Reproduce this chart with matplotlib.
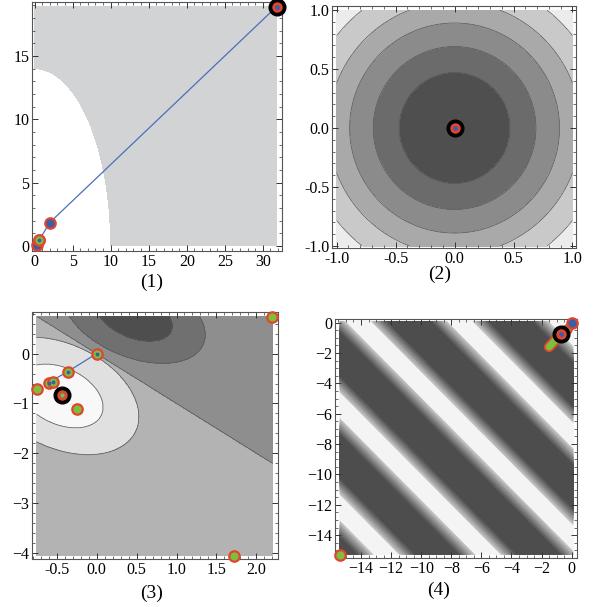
import numpy as np
import matplotlib
matplotlib.use("Agg")
import matplotlib.pyplot as plt
from matplotlib.ticker import MultipleLocator, FormatStrFormatter
import matplotlib.patheffects as pe

plt.rcParams['font.family'] = ['Liberation Serif', 'DejaVu Serif']
plt.rcParams['font.size'] = 11.5

# ---- data ----
# panel (1): search path and feasible-region boundary (ellipse semi-axes)
p1_x = [0.3, 0.6, 2.0, 31.8]
p1_y = [0.05, 0.45, 1.85, 18.9]
p1_box = [0.0, 31.8, 0.0, 18.9]
p1_ell = [10.0, 14.0]

# panel (2): circular contours, radii of the bands
p2_radii = [0.47, 0.69, 0.89, 1.07, 1.27]
p2_grays = ['#4f4f4f', '#6b6b6b', '#8b8b8b', '#a9a9a9', '#c9c9c9', '#ececec']
p2_opt = [0.0, 0.0]

# panel (3): path, extra sample points, optimum
p3_path_x = [0.0, -0.36, -0.6, -0.54, -0.43]
p3_path_y = [0.0, -0.36, -0.58, -0.57, -0.83]
p3_pts_x = [-0.75, -0.24, 2.2, 1.72, -0.6, -0.54, -0.36, 0.0]
p3_pts_y = [-0.72, -1.11, 0.74, -4.06, -0.58, -0.57, -0.36, 0.0]
p3_opt = [-0.43, -0.83]
p3_box = [-0.75, 2.2, -4.06, 0.74]
p3_grays = ['#f8f8f8', '#e0e0e0', '#b3b3b3', '#8e8e8e', '#707070', '#4e4e4e']

# panel (4): stripes along x+y, path near the origin
p4_period = 6.75
p4_white0 = -0.6
p4_box = [-15.4, 0.1, -15.3, 0.1]
p4_path_x = [0.0, -0.3, -0.7]
p4_path_y = [0.0, -0.4, -0.75]
p4_seg_x = [-1.5, -0.95]
p4_seg_y = [-1.6, -1.0]
p4_opt = [-0.68, -0.72]
p4_far = [-15.4, -15.3]

RED = '#e2452f'
GREEN = '#7cbf3c'
BLUE = '#3a5ea8'
LINE = '#4a6fb8'

fig = plt.figure(figsize=(6.0, 6.07), dpi=100)
ax1 = fig.add_axes([0.0538, 0.5865, 0.416, 0.410])
ax2 = fig.add_axes([0.5533, 0.5914, 0.4067, 0.3987])
ax3 = fig.add_axes([0.0538, 0.0786, 0.4095, 0.4069])
ax4 = fig.add_axes([0.5583, 0.0802, 0.4028, 0.3942])


def frame(ax, xmaj, xmin, ymaj, ymin):
    ax.xaxis.set_major_locator(MultipleLocator(xmaj))
    ax.xaxis.set_minor_locator(MultipleLocator(xmin))
    ax.yaxis.set_major_locator(MultipleLocator(ymaj))
    ax.yaxis.set_minor_locator(MultipleLocator(ymin))
    ax.tick_params(which='both', direction='in', top=True, right=True,
                   colors='#333333', labelcolor='black', pad=2)
    ax.tick_params(which='major', length=4, width=0.7)
    ax.tick_params(which='minor', length=2, width=0.5)
    for sp in ax.spines.values():
        sp.set_color('#555555')
        sp.set_linewidth(0.8)


def dot(ax, x, y, face, size=7.5, center=None):
    ax.plot(x, y, 'o', ms=size, mfc=face, mec=RED, mew=1.6, zorder=5, clip_on=False)
    if center is not None:
        ax.plot(x, y, 'o', ms=2.8, mfc=center, mec='none', zorder=6, clip_on=False)


def optimum(ax, x, y):
    ax.plot(x, y, 'o', ms=12, mfc='black', mec='black', zorder=7, clip_on=False)
    ax.plot(x, y, 'o', ms=7.5, mfc=RED, mec='none', zorder=8, clip_on=False)
    ax.plot(x, y, 'o', ms=3.5, mfc=BLUE, mec='none', zorder=9, clip_on=False)


# ---- panel (1) ----
gx = np.linspace(p1_box[0], p1_box[1], 500)
gy = np.linspace(p1_box[2], p1_box[3], 500)
X, Y = np.meshgrid(gx, gy)
F = (X / p1_ell[0]) ** 2 + (Y / p1_ell[1]) ** 2
ax1.contourf(X, Y, F, levels=[0, 1, F.max() + 1], colors=['white', '#d2d3d5'])
ax1.plot(p1_x, p1_y, color=LINE, lw=0.9, zorder=4)
for x, y in zip(p1_x[:-1], p1_y[:-1]):
    dot(ax1, x, y, BLUE)
dot(ax1, p1_x[1], p1_y[1], GREEN, center=BLUE)
optimum(ax1, p1_x[-1], p1_y[-1])
ax1.set_xlim(-0.3, 32.5)
ax1.set_ylim(-0.4, 19.26)
frame(ax1, 5, 1, 5, 1)

# ---- panel (2) ----
gx = np.linspace(-1, 1, 500)
X, Y = np.meshgrid(gx, gx)
R2 = X ** 2 + Y ** 2
lev = [0] + [r ** 2 for r in p2_radii] + [3]
ax2.contourf(X, Y, R2, levels=lev, colors=p2_grays)
ax2.contour(X, Y, R2, levels=lev[1:-1], colors='#555555', linewidths=0.5)
optimum(ax2, p2_opt[0], p2_opt[1])
ax2.set_xlim(-1.04, 1.03)
ax2.set_ylim(-1.017, 1.034)
frame(ax2, 0.5, 0.1, 0.5, 0.1)
ax2.xaxis.set_major_formatter(FormatStrFormatter('%.1f'))
ax2.yaxis.set_major_formatter(FormatStrFormatter('%.1f'))

# ---- panel (3) ----
gx = np.linspace(p3_box[0], p3_box[1], 700)
gy = np.linspace(p3_box[2], p3_box[3], 700)
X, Y = np.meshgrid(gx, gy)
sx, sy = 80.0, 49.6   # pixels per unit, so ellipses are set on screen


def quad(cx, cy, a, b, ang):
    dx = (X - cx) * sx
    dy = (Y - cy) * sy
    t = np.deg2rad(ang)
    u = dx * np.cos(t) + dy * np.sin(t)
    v = -dx * np.sin(t) + dy * np.cos(t)
    return (u / a) ** 2 + (v / b) ** 2


q_low = quad(-0.45, -0.85, 45, 28, -25)
q_high = quad(0.47, 0.76, 40, 22, -22)
idx = np.where(X + Y < 0,
               np.where(q_low < 1, 0, np.where(q_low < 3.4, 1, 2)),
               np.where(q_high < 1, 5, np.where(q_high < 3.5, 4, 3)))
ax3.contourf(X, Y, idx, levels=np.arange(-0.5, 6, 1), colors=p3_grays)
ax3.contour(X, Y, idx, levels=np.arange(0.5, 5, 1), colors='#5a5a5a', linewidths=0.5)
ax3.plot(p3_path_x, p3_path_y, color=LINE, lw=0.9, zorder=4)
for x, y in zip(p3_pts_x, p3_pts_y):
    dot(ax3, x, y, GREEN)
for x, y in zip(p3_path_x, p3_path_y):
    ax3.plot(x, y, 'o', ms=2.8, mfc=BLUE, mec='none', zorder=6)
optimum(ax3, p3_opt[0], p3_opt[1])
ax3.plot(p3_opt[0], p3_opt[1], 'o', ms=3.2, mfc=GREEN, mec='none', zorder=10)
ax3.set_xlim(-0.805, 2.27)
ax3.set_ylim(-4.13, 0.83)
frame(ax3, 0.5, 0.1, 1, 0.2)
ax3.xaxis.set_major_formatter(FormatStrFormatter('%.1f'))

# ---- panel (4) ----
gx = np.linspace(p4_box[0], p4_box[1], 700)
gy = np.linspace(p4_box[2], p4_box[3], 700)
X, Y = np.meshgrid(gx, gy)
phase = ((X + Y - p4_white0) / p4_period) % 1.0
wave = np.cos(2 * np.pi * phase)
shade = np.interp(wave, [-1, -0.2, 0.72, 1], [0.29, 0.29, 0.965, 0.965])
lev4 = np.linspace(0.285, 0.97, 22)
ax4.contourf(X, Y, shade, levels=lev4, cmap='gray', vmin=0.0, vmax=1.0)
ax4.contour(X, Y, shade, levels=lev4[1:-1], colors='#505050', linewidths=0.3, alpha=0.5)
ax4.plot([p4_opt[0], 0.0], [p4_opt[1], 0.0], color='#9aa7d0', lw=0.8, zorder=4)
ax4.plot(p4_seg_x, p4_seg_y, color=GREEN, lw=5, solid_capstyle='round', zorder=5,
         path_effects=[pe.Stroke(linewidth=7.5, foreground=RED), pe.Normal()])
dot(ax4, p4_path_x[1], p4_path_y[1], GREEN, size=6)
dot(ax4, p4_path_x[0], p4_path_y[0], BLUE, center=BLUE)
optimum(ax4, p4_opt[0], p4_opt[1])
dot(ax4, p4_far[0], p4_far[1], GREEN)
ax4.set_xlim(-15.73, 0.33)
ax4.set_ylim(-15.53, 0.24)
frame(ax4, 2, 0.5, 2, 0.5)

for txt, x, y in [('(1)', 151.7, 282), ('(2)', 439.5, 274), ('(3)', 151.7, 593), ('(4)', 438.5, 590)]:
    fig.text(x / 600, 1 - y / 607, txt, ha='center', va='center', fontsize=14)

fig.savefig('out.png', dpi=100)
